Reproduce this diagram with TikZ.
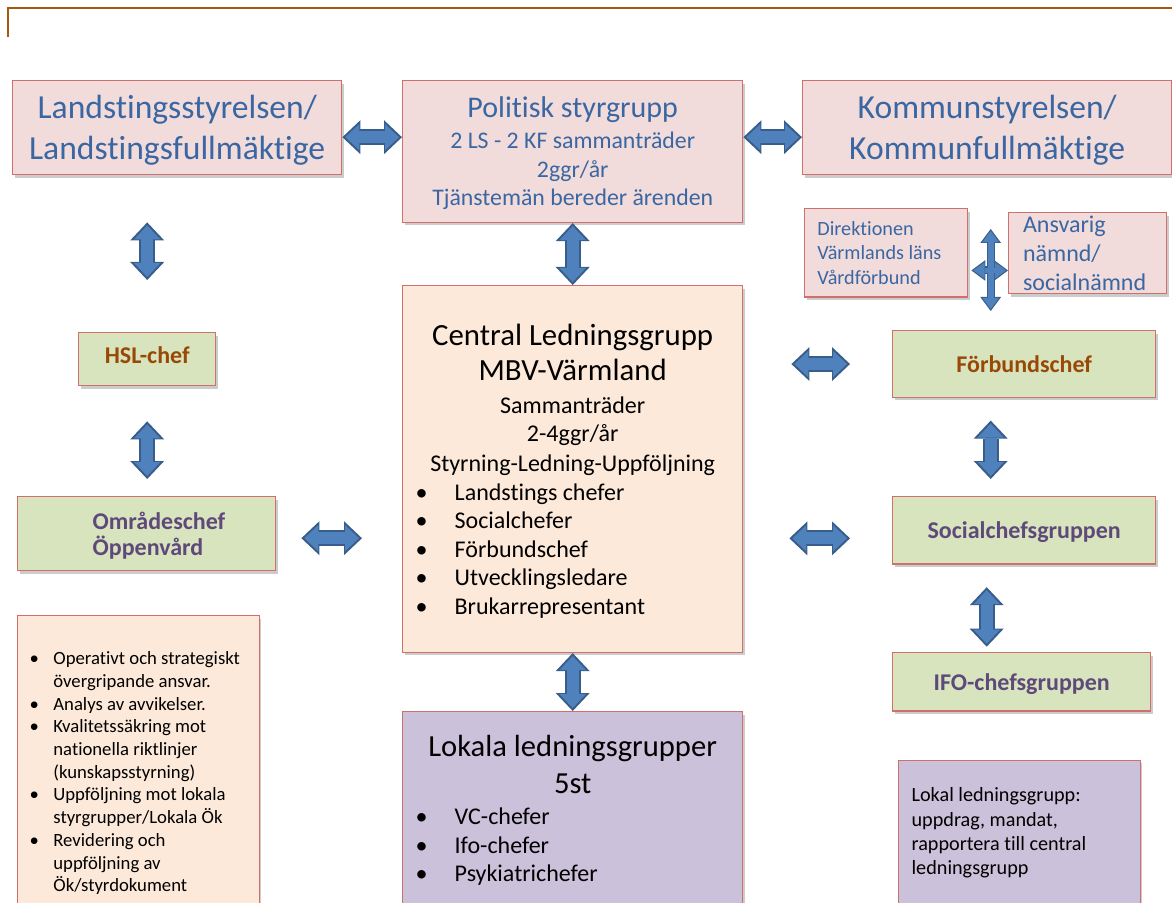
\documentclass[tikz,border=0pt]{standalone}
\usepackage{fontspec}
\setmainfont{Carlito}[Ligatures=NoCommon]
\usepackage{tikz}
\usetikzlibrary{arrows.meta,shadows}

\definecolor{pinkfill}{HTML}{F2DCDB}
\definecolor{peachfill}{HTML}{FDE9D9}
\definecolor{greenfill}{HTML}{D7E4BD}
\definecolor{lilafill}{HTML}{CCC1DA}
\definecolor{boxline}{HTML}{D06F6C}
\definecolor{bluetext}{HTML}{3A66A2}
\definecolor{browntext}{HTML}{984807}
\definecolor{purpletext}{HTML}{5F497A}
\definecolor{arrowfill}{HTML}{4F81BD}
\definecolor{arrowline}{HTML}{385D8A}
\definecolor{framebrown}{HTML}{A35A10}

\newcommand{\bitem}[1]{\makebox[\linewidth][l]{\makebox[21pt][l]{\hspace*{1.5pt}\textbullet}#1}}
\newcommand{\sitem}[1]{\makebox[15.6pt][l]{\hspace*{3.7pt}\textbullet}#1}
\newcommand{\scont}[1]{\hspace*{15.6pt}#1}

\begin{document}
\begin{tikzpicture}
  [x=0.5pt, y=-0.5pt,
   panel/.style={draw=boxline, line width=0.7pt, anchor=north west, inner xsep=4pt, inner ysep=0pt,
     align=flush center, drop shadow={shadow xshift=1pt, shadow yshift=-1.5pt, fill=black, opacity=0.2}},
   polbox/.style={panel, fill=pinkfill, text=bluetext},
   chefbox/.style={panel, fill=greenfill, font=\bfseries\fontsize{12}{14.4}\selectfont},
   grpbox/.style={panel, fill=peachfill},
   lokbox/.style={panel, fill=lilafill},
   topline/.style={draw=framebrown, line width=1pt},
   linkline/.style={draw=arrowline, line width=8pt, shorten <=0pt, shorten >=0pt,
     arrows={Triangle[length=9pt,width=17pt,line width=0pt]-Triangle[length=9pt,width=17pt,line width=0pt]}},
   linkfill/.style={draw=arrowfill, line width=6pt, shorten <=1.5pt, shorten >=1.5pt,
     arrows={Triangle[length=7pt,width=13.2pt,line width=0pt]-Triangle[length=7pt,width=13.2pt,line width=0pt]}},
   link/.style={linkfill, preaction={linkline}},
   crossline/.style={draw=arrowline, line width=4pt,
     arrows={Triangle[length=7pt,width=10.4pt,line width=0pt]-Triangle[length=7pt,width=10.4pt,line width=0pt]}},
   crossfill/.style={draw=arrowfill, line width=2.8pt, shorten <=1pt, shorten >=1pt,
     arrows={Triangle[length=5.6pt,width=8.3pt,line width=0pt]-Triangle[length=5.6pt,width=8.3pt,line width=0pt]}}]
  \useasboundingbox (0,0) rectangle (1172,903);
  \draw[topline] (8,37) -- (8,8) -- (1172,8);

  % politiska organ
  \node[polbox, font=\fontsize{16.8}{20.5}\selectfont, text width=156.5pt, text height=19.15pt, text depth=27.85pt]
    (ls) at (12,80) {Landstingsstyrelsen/\\Landstingsfullmäktige};
  \node[polbox, font=\fontsize{11.9}{14.2}\selectfont, text width=162pt, text height=18.35pt, text depth=52.5pt]
    (ps) at (402,80) {{\fontsize{15}{18}\selectfont Politisk styrgrupp}\\[1.6pt]2 LS - 2 KF sammanträder\\2ggr/år\\Tjänstemän bereder ärenden};
  \node[polbox, font=\fontsize{16.8}{20.5}\selectfont, text width=176.5pt, text height=19.15pt, text depth=27.85pt]
    (ks) at (802,80) {Kommunstyrelsen/\\Kommunfullmäktige};
  \node[polbox, align=flush left, inner xsep=6.35pt, font=\fontsize{10.1}{12.1}\selectfont, text width=68.8pt, text height=13.5pt, text depth=30.75pt]
    (dir) at (804,208) {Direktionen\\Värmlands läns\\Vårdförbund};
  \node[polbox, align=flush left, inner xsep=7.15pt, font=\fontsize{12}{14.5}\selectfont, text width=64.7pt, text height=9.85pt, text depth=30.65pt]
    (ans) at (1008,212) {Ansvarig\\nämnd/\\socialnämnd};

  % chefer
  \node[chefbox, text=browntext, text width=60.5pt, text height=15.5pt, text depth=11pt] (hsl) at (78,332) {HSL-chef};
  \node[chefbox, text=purpletext, align=flush left, inner xsep=37.5pt, font=\bfseries\fontsize{12}{13.3}\selectfont,
    text width=54pt, text height=16.15pt, text depth=20.85pt] (omr) at (17,496) {\mbox{Områdeschef}\\\mbox{Öppenvård}};
  \node[chefbox, text=browntext, text width=123.5pt, text height=20.85pt, text depth=12.5pt] (forb) at (892,330) {Förbundschef};
  \node[chefbox, text=purpletext, text width=123.5pt, text height=20.65pt, text depth=13pt] (soc) at (892,496) {Socialchefsgruppen};
  \node[chefbox, text=purpletext, text width=121pt, text height=18.85pt, text depth=10.3pt] (ifo) at (892,652) {IFO-chefsgruppen};

  % ledningsgrupper
  \node[grpbox, inner xsep=5pt, font=\fontsize{12}{14.25}\selectfont, text width=160pt, text height=30pt, text depth=153.35pt]
    (clg) at (402,285) {{\fontsize{15.4}{18}\selectfont Central Ledningsgrupp\\[3.2pt]MBV-Värmland}\\[2pt]
      Sammanträder\\[0.2pt]2-4ggr/år\\[0.7pt]Styrning-Ledning-Uppföljning\\
      \bitem{Landstings chefer}\\\bitem{Socialchefer}\\\bitem{Förbundschef}\\
      \bitem{Utvecklingsledare}\\\bitem{Brukarrepresentant}};
  \node[lokbox, inner xsep=5pt, font=\fontsize{12}{14.3}\selectfont, text width=160pt, text height=22.5pt, text depth=110pt]
    (lok) at (402,711) {{\fontsize{15.3}{18}\selectfont Lokala ledningsgrupper\\[4.2pt]5st}\\[1.2pt]
      \bitem{VC-chefer}\\\bitem{Ifo-chefer}\\\bitem{Psykiatrichefer}};
  \node[grpbox, align=flush left, inner xsep=2.5pt, font=\fontsize{9.35}{11.35}\selectfont, text width=116pt, text height=24.5pt, text depth=150pt]
    (uppdrag) at (16.5,615) {\sitem{Operativt och strategiskt}\\\scont{övergripande ansvar.}\\
      \sitem{Analys av avvikelser.}\\\sitem{Kvalitetssäkring mot}\\\scont{nationella riktlinjer}\\
      \scont{(kunskapsstyrning)}\\\sitem{Uppföljning mot lokala}\\\scont{styrgrupper/Lokala Ök}\\
      \sitem{Revidering och}\\\scont{uppföljning av}\\\scont{Ök/styrdokument}};
  \node[lokbox, align=flush left, inner xsep=6.7pt, font=\fontsize{10.1}{12.1}\selectfont, text width=107.6pt, text height=20.85pt, text depth=80pt]
    (mandat) at (897.5,759.5) {Lokal ledningsgrupp:\\uppdrag, mandat,\\rapportera till central\\ledningsgrupp};

  % pilar
  \coordinate (toprow) at ([yshift=-4.75pt]ls.east);
  \draw[link] (toprow) -- (toprow -| ps.west);
  \draw[link] (toprow -| ps.east) -- (toprow -| ks.west);
  \draw[link] ([yshift=-23.5pt]hsl.north |- ls.south) -- ([yshift=26pt]hsl.north);
  \draw[link] (ps.south) -- (clg.north);
  \draw[link] ([yshift=-17.5pt]hsl.south) -- ([yshift=8.5pt]hsl.south |- omr.north);
  \draw[link] ([xshift=12.5pt,yshift=-2.25pt]omr.east) -- ([xshift=-20pt,yshift=-2.25pt]omr.east -| clg.west);
  \draw[link] (clg.south) -- (lok.north);
  \draw[link] ([xshift=24pt]clg.east |- forb.west) -- ([xshift=-21pt]forb.west);
  \draw[link] ([xshift=-16.75pt,yshift=-11.25pt]forb.south) -- ([xshift=-16.75pt,yshift=8.5pt]soc.north);
  \draw[link] ([xshift=23pt,yshift=-4pt]clg.east |- soc.west) -- ([xshift=-21pt,yshift=-4pt]soc.west);
  \draw[link] ([xshift=-18.75pt,yshift=-11.25pt]soc.south) -- ([xshift=-17.5pt,yshift=2.65pt]ifo.north);

  % korset mellan direktionen och nämnden
  \draw[crossline] ([xshift=-16.75pt,yshift=50.5pt]forb.north) -- ([xshift=-16.75pt,yshift=9.5pt]forb.north);
  \draw[crossline] ([xshift=1.5pt,yshift=-8.75pt]dir.east) -- ([yshift=-8.75pt]dir.east -| ans.west);
  \draw[crossfill] ([xshift=-16.75pt,yshift=50.5pt]forb.north) -- ([xshift=-16.75pt,yshift=9.5pt]forb.north);
  \draw[crossfill] ([xshift=1.5pt,yshift=-8.75pt]dir.east) -- ([yshift=-8.75pt]dir.east -| ans.west);
\end{tikzpicture}
\end{document}
